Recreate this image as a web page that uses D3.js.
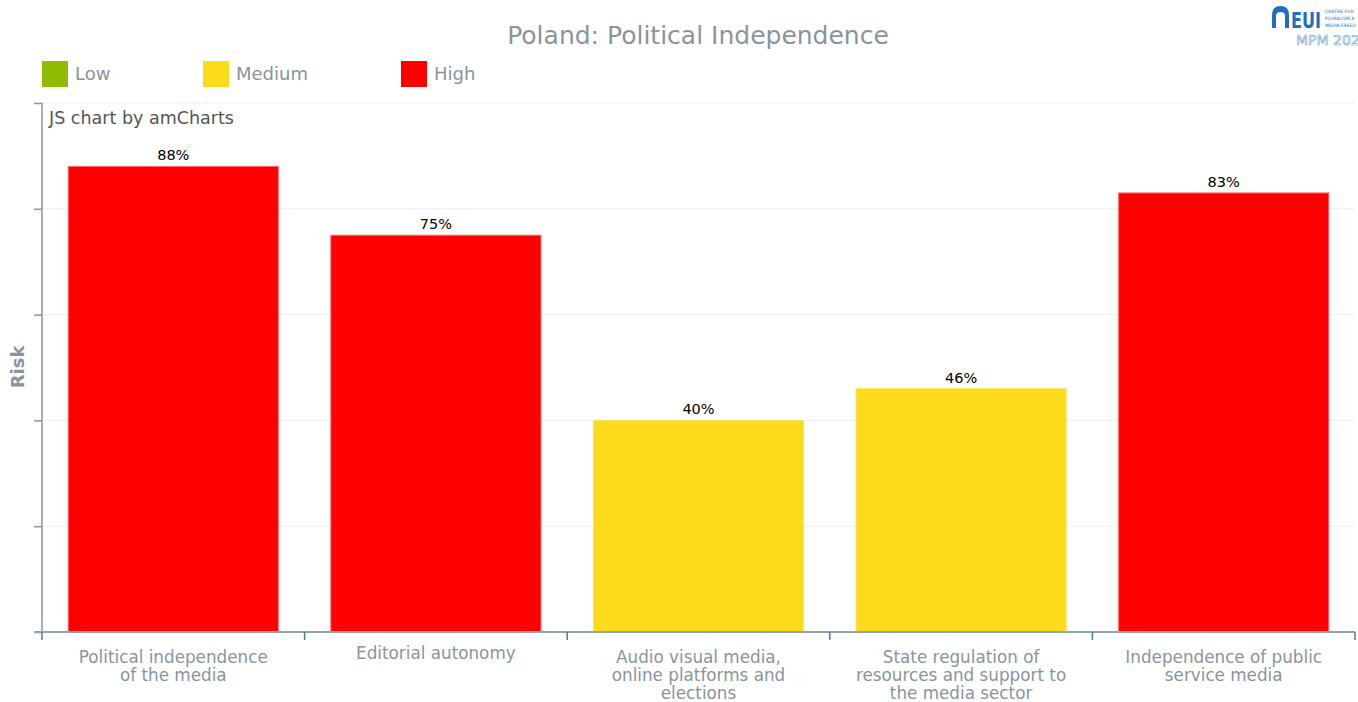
<!DOCTYPE html>
<html>
<head>
<meta charset="utf-8">
<script src="https://cdn.jsdelivr.net/npm/d3@7"></script>
<style>
  html, body { margin: 0; padding: 0; background: #fff; }
  svg { display: block; font-family: "DejaVu Sans", Verdana, sans-serif; }
</style>
</head>
<body>
<svg id="chart" width="1358" height="702"></svg>
<script>
// Risk scores per Political Independence indicator
const categories = [
  ["Political independence", "of the media"],
  ["Editorial autonomy"],
  ["Audio visual media,", "online platforms and", "elections"],
  ["State regulation of", "resources and support to", "the media sector"],
  ["Independence of public", "service media"]
];
const values = [88, 75, 40, 46, 83];
const levels = ["High", "High", "Medium", "Medium", "High"];
const legendLabels = ["Low", "Medium", "High"];
const levelColors = { Low: "#8fbb02", Medium: "#fbdb1a", High: "#ff0000" };
const yTicks = [0, 20, 40, 60, 80, 100];

const svg = d3.select("#chart");
const margin = { left: 42, right: 1355, top: 103, bottom: 632 };

const x = d3.scaleBand()
  .domain(d3.range(values.length))
  .range([margin.left, margin.right])
  .paddingInner(0.2)
  .paddingOuter(0.1);

const y = d3.scaleLinear().domain([0, 100]).range([margin.bottom, margin.top]);

// Title
svg.append("text")
  .attr("x", 698).attr("y", 44)
  .attr("text-anchor", "middle")
  .attr("font-size", 25)
  .attr("fill", "#8a949d")
  .text("Poland: Political Independence");

// Legend
const legend = svg.append("g");
const legendX = [42, 203, 401];
legendLabels.forEach((lab, i) => {
  legend.append("rect")
    .attr("x", legendX[i]).attr("y", 61)
    .attr("width", 26).attr("height", 26)
    .attr("fill", levelColors[lab]);
  legend.append("text")
    .attr("x", legendX[i] + 33).attr("y", 80)
    .attr("font-size", 18)
    .attr("fill", "#8a949d")
    .text(lab);
});

// Gridlines
svg.append("g")
  .selectAll("line")
  .data(yTicks.slice(1))
  .join("line")
  .attr("x1", margin.left).attr("x2", margin.right)
  .attr("y1", d => y(d)).attr("y2", d => y(d))
  .attr("stroke", "#eeeeee").attr("stroke-width", 1);

// Bars
svg.append("g")
  .selectAll("rect")
  .data(values)
  .join("rect")
  .attr("x", (d, i) => x(i))
  .attr("y", d => y(d))
  .attr("width", x.bandwidth())
  .attr("height", d => y(0) - y(d))
  .attr("fill", (d, i) => levelColors[levels[i]])
  .attr("stroke", (d, i) => levels[i] === "High" ? "#ff6666" : "#fbe46a")
  .attr("stroke-width", 1);

// Value labels
svg.append("g")
  .selectAll("text")
  .data(values)
  .join("text")
  .attr("x", (d, i) => x(i) + x.bandwidth() / 2)
  .attr("y", d => y(d) - 6)
  .attr("text-anchor", "middle")
  .attr("font-size", 14.5)
  .attr("fill", "#000")
  .text(d => d + "%");

// Y axis
const yAxis = d3.axisLeft(y).tickValues(yTicks).tickSize(8).tickFormat("");
const yg = svg.append("g").attr("transform", `translate(${margin.left},0)`).call(yAxis);
yg.select(".domain").remove();
yg.selectAll(".tick line").attr("stroke", "#8a949d").attr("stroke-width", 1.5);
svg.append("line")
  .attr("x1", margin.left).attr("x2", margin.left)
  .attr("y1", margin.top).attr("y2", margin.bottom)
  .attr("stroke", "#8a949d").attr("stroke-width", 1.5);

// X axis baseline and band boundary ticks
svg.append("line")
  .attr("x1", 34).attr("x2", margin.right)
  .attr("y1", margin.bottom).attr("y2", margin.bottom)
  .attr("stroke", "#8ea7b8").attr("stroke-width", 2);
const boundaries = d3.range(values.length + 1).map(i => margin.left + i * (margin.right - margin.left) / values.length);
svg.append("g")
  .selectAll("line")
  .data(boundaries)
  .join("line")
  .attr("x1", d => d).attr("x2", d => d)
  .attr("y1", margin.bottom).attr("y2", margin.bottom + 8)
  .attr("stroke", "#4d7c9c").attr("stroke-width", 1.5);

// Category labels
const catG = svg.append("g")
  .selectAll("text")
  .data(categories)
  .join("text")
  .attr("x", (d, i) => x(i) + x.bandwidth() / 2)
  .attr("y", 663)
  .attr("text-anchor", "middle")
  .attr("font-size", 16.8)
  .attr("fill", "#8a949d");
catG.each(function(lines, i) {
  const t = d3.select(this);
  lines.forEach((ln, j) => {
    t.append("tspan")
      .attr("x", x(i) + x.bandwidth() / 2)
      .attr("dy", j === 0 ? (i === 1 ? -4 : 0) : 18)
      .text(ln);
  });
});

// Axis title
svg.append("text")
  .attr("transform", "translate(24,367) rotate(-90)")
  .attr("text-anchor", "middle")
  .attr("font-size", 18)
  .attr("font-weight", "bold")
  .attr("fill", "#8a949d")
  .text("Risk");

// Credit
svg.append("text")
  .attr("x", 49).attr("y", 124)
  .attr("font-size", 17.5)
  .attr("fill", "#555")
  .text("JS chart by amCharts");

// Logo
const logo = svg.append("g");
logo.append("path")
  .attr("d", "M1272,28 L1272,15 Q1272,6 1280.5,6 Q1289,6 1289,15 L1289,28 L1285,28 L1285,16 Q1285,12 1280.5,12 Q1276,12 1276,16 L1276,28 Z")
  .attr("fill", "#1f6fc0");
logo.append("text")
  .attr("x", 1291).attr("y", 28)
  .attr("font-size", 21).attr("font-weight", "bold")
  .attr("textLength", 30).attr("lengthAdjust", "spacingAndGlyphs")
  .attr("fill", "#1f6fc0")
  .text("EUI");
["CENTRE FOR", "PLURALISM A", "MEDIA FREED"].forEach((s, i) => {
  logo.append("text")
    .attr("x", 1325).attr("y", 13 + i * 7)
    .attr("font-size", 4.5)
    .attr("fill", "#1f6fc0")
    .text(s);
});
logo.append("text")
  .attr("x", 1296).attr("y", 45)
  .attr("font-size", 14)
  .attr("fill", "none")
  .attr("stroke", "#6aa6e0")
  .attr("stroke-width", 0.6)
  .text("MPM 2023");
</script>
</body>
</html>
